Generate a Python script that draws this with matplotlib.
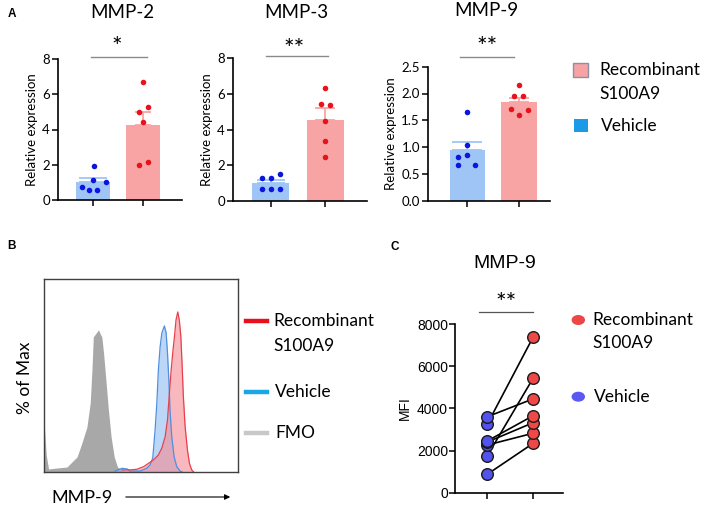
import matplotlib
matplotlib.use("Agg")
import matplotlib.pyplot as plt
import numpy as np
from matplotlib.lines import Line2D
from matplotlib.patches import Rectangle, Circle, FancyArrowPatch

W, H = 708, 507

# ---- panel A data ----
groups = ["Vehicle", "Recombinant S100A9"]
mmp2_mean = [1.0, 4.25]
mmp2_sem = [0.23, 0.75]
mmp2_veh = [1.95, 1.13, 1.04, 0.76, 0.57, 0.57]
mmp2_rec = [6.67, 5.29, 5.0, 4.42, 2.17, 2.0]

mmp3_mean = [1.0, 4.56]
mmp3_sem = [0.16, 0.62]
mmp3_veh = [1.48, 1.25, 1.25, 0.67, 0.67, 0.67]
mmp3_rec = [6.35, 5.45, 5.36, 4.48, 3.37, 2.43]

mmp9_mean = [0.945, 1.85]
mmp9_sem = [0.155, 0.07]
mmp9_veh = [1.65, 1.03, 0.85, 0.81, 0.67, 0.67]
mmp9_rec = [2.16, 1.95, 1.95, 1.72, 1.70, 1.59]

# horizontal scatter of the dots
jit2_veh = [0.01, 0, 0.25, -0.23, -0.08, 0.08]
jit2_rec = [0, 0.09, -0.08, 0, 0.09, -0.08]
jit3_veh = [0.17, -0.165, 0, -0.165, 0, 0.17]
jit3_rec = [0, -0.09, 0.08, 0, 0, 0]
jit9_veh = [0, 0, 0, -0.17, -0.17, 0.16]
jit9_rec = [0, -0.1, 0.08, -0.16, 0.17, 0]

# ---- panel B histogram outlines (channel, % of max) ----
fmo_x = [0, 0.15, 1.0, 2.2, 6.5, 11.7, 14.3, 16.9, 19.4, 22.0, 23.7, 24.6, 25.3, 26.8,
         28.0, 28.9, 29.7, 30.6, 31.8, 33.1, 34.5, 36.1, 37.8, 40.1, 41.8]
fmo_y = [30, 26.3, 10.6, 1.9, 2.5, 3.1, 6.3, 9.4, 18.1, 28.1, 43.1, 63.8, 84.4, 86.9,
         88.8, 86.3, 84.4, 74.4, 57.5, 38.8, 21.9, 9.4, 3.1, 1.3, 0]
veh_x = [36.6, 40.1, 42.8, 44.3, 49.5, 52.9, 54.6, 56.0, 57.2, 58.1, 58.9, 59.8, 60.7,
         62.0, 62.9, 63.6, 64.3, 64.9, 65.8, 67.0, 68.4, 70.1, 71.1]
veh_y = [0.6, 2.3, 1.9, 0.6, 0.6, 2.3, 4.4, 8.8, 26.3, 43.1, 63.8, 78.3, 86.9,
         91.3, 86.9, 74.4, 57.5, 38.8, 22.1, 9.6, 3.3, 0.6, 0]
rec_x = [40.1, 44.3, 47.8, 51.2, 53.8, 56.3, 58.9, 60.7, 62.4, 63.6, 64.6, 65.5, 66.3,
         67.2, 68.0, 68.9, 69.7, 70.5, 71.1, 71.8, 72.7, 73.9, 74.9, 76.1, 77.0]
rec_y = [1.3, 1.3, 1.7, 3.3, 5.4, 7.5, 10.6, 15.0, 22.1, 32.5, 49.4, 63.8, 74.4,
         84.6, 95.0, 100, 95.0, 84.6, 68.1, 47.1, 28.3, 13.8, 5.6, 1.3, 0.2]

# ---- panel C paired MFI ----
mfi_vehicle = [870, 1740, 2260, 2400, 2450, 3240, 3600]
mfi_recomb = [2340, 5430, 2820, 3320, 3650, 7380, 4450]

plt.rcParams['font.family'] = ['Lato', 'DejaVu Sans']

bar_cols = ["#9fc5f6", "#f9a4a4"]
dot_cols = ["#0a16e0", "#e8121c"]


def rect(x0, y0, x1, y1):
    return [x0 / W, 1 - y1 / H, (x1 - x0) / W, (y1 - y0) / H]


def fx(x):
    return x / W


def fy(y):
    return 1 - y / H


fig = plt.figure(figsize=(W / 100, H / 100), dpi=100)


def bar_panel(r, means, sems, veh, rec, jv, jr, ylim, ticks, xlim, sig_y, sig_x, caps):
    ax = fig.add_axes(r)
    for i in range(2):
        ax.bar(i, means[i], width=0.68, color=bar_cols[i], zorder=1)
        ax.errorbar(i, means[i], yerr=[[0], [sems[i]]], color=bar_cols[i], capsize=caps[i],
                    elinewidth=1.3, capthick=1.3, zorder=1)
    ax.scatter(np.array(jv), veh, s=16, color=dot_cols[0], zorder=3, linewidths=0)
    ax.scatter(1 + np.array(jr), rec, s=16, color=dot_cols[1], zorder=3, linewidths=0)
    ax.set_xlim(*xlim)
    ax.set_ylim(*ylim)
    ax.set_yticks(ticks)
    ax.set_xticks([0, 1])
    ax.set_xticklabels([])
    for s in ["top", "right"]:
        ax.spines[s].set_visible(False)
    for s in ["left", "bottom"]:
        ax.spines[s].set_linewidth(1.2)
    ax.tick_params(labelsize=9.5, length=4, width=1.1, pad=2)
    ax.set_ylabel("Relative expression", fontsize=9.5, labelpad=3)
    ax.plot(sig_x, [sig_y, sig_y], color="#8a8a8a", lw=1, clip_on=False)
    return ax


ax2 = bar_panel(rect(58.3, 59, 182, 200), mmp2_mean, mmp2_sem, mmp2_veh, mmp2_rec,
                jit2_veh, jit2_rec, (0, 8), [0, 2, 4, 6, 8], (-0.70, 1.77), 8.11, [-0.05, 1.07], (10, 6))
ax3 = bar_panel(rect(233.3, 58.3, 367, 200.7), mmp3_mean, mmp3_sem, mmp3_veh, mmp3_rec,
                jit3_veh, jit3_rec, (0, 8), [0, 2, 4, 6, 8], (-0.685, 1.76), 8.13, [-0.09, 1.04], (10, 7))
ax9 = bar_panel(rect(428.3, 66.7, 550, 200.7), mmp9_mean, mmp9_sem, mmp9_veh, mmp9_rec,
                jit9_veh, jit9_rec, (0, 2.5), [0, 0.5, 1.0, 1.5, 2.0, 2.5], (-0.75, 1.6), 2.675, [-0.14, 0.90], (11, 7))
ax9.set_yticklabels(["0.0", "0.5", "1.0", "1.5", "2.0", "2.5"])

for name, x, y in [("MMP-2", 122, 13), ("MMP-3", 296.7, 12), ("MMP-9", 486, 10)]:
    fig.text(fx(x), fy(y), name, fontsize=13.5, ha="center", va="center")
for s, x, y in [("*", 116.7, 48), ("**", 294, 49), ("**", 486.7, 48)]:
    fig.text(fx(x), fy(y), s, fontsize=18, ha="center", va="center")

# legend A
fig.add_artist(Rectangle((fx(573), fy(77)), 15 / W, 14 / H, facecolor="#f7a3a3",
                         edgecolor="#8f8fa3", lw=1.0, transform=fig.transFigure))
fig.add_artist(Rectangle((fx(573.5), fy(132)), 14 / W, 13 / H, facecolor="#1b9ae8",
                         edgecolor="none", transform=fig.transFigure))
fig.text(fx(599), fy(70), "Recombinant", fontsize=12.5, va="center")
fig.text(fx(599), fy(94), "S100A9", fontsize=12.5, va="center")
fig.text(fx(601), fy(126), "Vehicle", fontsize=12.5, va="center")

# ---- panel B ----
axB = fig.add_axes(rect(44.3, 279, 238, 472))
axB.fill_between(fmo_x, fmo_y, color="#a8a8a8", lw=0)
axB.fill_between(veh_x, veh_y, color="#8fbcf2", alpha=0.6, lw=0)
axB.plot(veh_x, veh_y, color="#4f8fe0", lw=0.9)
axB.fill_between(rec_x, rec_y, color="#f48a92", alpha=0.6, lw=0)
axB.plot(rec_x, rec_y, color="#e8404a", lw=0.9)
axB.set_xlim(0, 100)
axB.set_ylim(0, 120.6)
axB.set_xticks([])
axB.set_yticks([])
for s in axB.spines.values():
    s.set_linewidth(1.0)
    s.set_color("#404040")
fig.text(fx(25), fy(378), "% of Max", fontsize=12.5, rotation=90, ha="center", va="center")
fig.text(fx(82), fy(498), "MMP-9", fontsize=13, ha="center", va="center")
fig.add_artist(FancyArrowPatch((fx(123), fy(497)), (fx(233), fy(497)),
                               transform=fig.transFigure, arrowstyle="-|>",
                               mutation_scale=8, lw=0.8, color="black"))

# legend B
for col, y in [("#e8101a", 321), ("#1aa7e6", 392), ("#c8c8c8", 433)]:
    fig.add_artist(Line2D([fx(246), fx(267)], [fy(y), fy(y)], color=col, lw=3.2,
                          transform=fig.transFigure))
fig.text(fx(273), fy(321), "Recombinant", fontsize=12.5, va="center")
fig.text(fx(273), fy(346), "S100A9", fontsize=12.5, va="center")
fig.text(fx(275), fy(392), "Vehicle", fontsize=12.5, va="center")
fig.text(fx(275), fy(433), "FMO", fontsize=12.5, va="center")

# ---- panel C ----
axC = fig.add_axes(rect(455, 324, 563, 492.7))
for v, r in zip(mfi_vehicle, mfi_recomb):
    axC.plot([0, 1], [v, r], color="black", lw=1.2, zorder=1)
axC.scatter(np.zeros(len(mfi_vehicle)), mfi_vehicle, s=70, color="#5252ee",
            edgecolors="#1a1a1a", linewidths=1.0, zorder=3, clip_on=False)
axC.scatter(np.ones(len(mfi_recomb)), mfi_recomb, s=70, color="#f04848",
            edgecolors="#1a1a1a", linewidths=1.0, zorder=3, clip_on=False)
axC.set_xlim(-0.70, 1.65)
axC.set_ylim(0, 8000)
axC.set_yticks([0, 2000, 4000, 6000, 8000])
axC.set_xticks([0, 1])
axC.set_xticklabels([])
for s in ["top", "right"]:
    axC.spines[s].set_visible(False)
for s in ["left", "bottom"]:
    axC.spines[s].set_linewidth(1.2)
axC.tick_params(length=4, width=1.1, pad=1)
for lab in axC.get_yticklabels():
    lab.set_family("Liberation Sans")
    lab.set_fontsize(10)
axC.set_ylabel("MFI", fontsize=10, family="Liberation Sans", labelpad=4)
axC.plot([-0.17, 1.0], [8569, 8569], color="#555555", lw=0.9, clip_on=False)
fig.text(fx(505), fy(263), "MMP-9", fontsize=14, family="Liberation Sans", ha="center", va="center")
fig.text(fx(505.8), fy(303), "**", fontsize=18, ha="center", va="center")

# legend C
fig.add_artist(Circle((fx(578.3), fy(320)), 6 / W, color="#ec4646", transform=fig.transFigure))
fig.text(fx(592.7), fy(320), "Recombinant", fontsize=12.5, va="center")
fig.text(fx(592.7), fy(343), "S100A9", fontsize=12.5, va="center")
fig.add_artist(Circle((fx(578.3), fy(396.7)), 6 / W, color="#5a5af0", transform=fig.transFigure))
fig.text(fx(594), fy(397), "Vehicle", fontsize=12.5, va="center")

# panel letters
for s, x, y in [("A", 12, 14), ("B", 12, 246), ("C", 395, 247)]:
    fig.text(fx(x), fy(y), s, fontsize=8.5, weight="bold", family="Liberation Sans",
             ha="center", va="center")

fig.savefig("out.png", dpi=100)
